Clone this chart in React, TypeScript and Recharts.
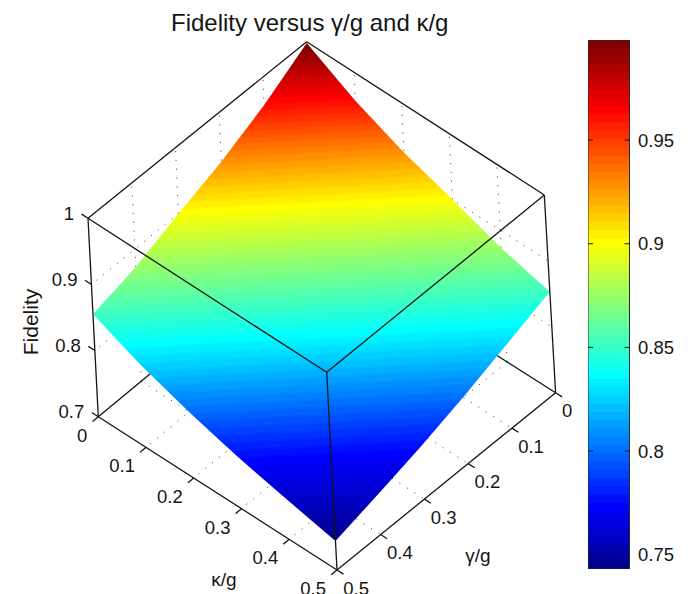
import { ComposedChart, Area, Line, XAxis, YAxis } from 'recharts'

const WIDTH = 688
const HEIGHT = 594

// grid values of both axes
const gridTicks = [0, 0.1, 0.2, 0.3, 0.4, 0.5]
const zTicks = [0.7, 0.8, 0.9, 1]
const colorbarTicks = [0.75, 0.8, 0.85, 0.9, 0.95]

// fidelity read along the four edges of the surface, one value per grid tick
const edgeKappa0 = [0.998, 0.957, 0.925, 0.9, 0.873, 0.855] // by gamma
const edgeGamma0 = [0.998, 0.957, 0.925, 0.9, 0.873, 0.853] // by kappa
const edgeKappaMax = [0.853, 0.828, 0.803, 0.781, 0.762, 0.744] // by gamma
const edgeGammaMax = [0.855, 0.823, 0.798, 0.777, 0.76, 0.744] // by kappa

// fidelity along the diagonal gamma = kappa, used for the colour bands
const diagonalSteps = [0, 0.05, 0.1, 0.15, 0.2, 0.25, 0.3, 0.35, 0.4, 0.45, 0.5]
const diagonalFidelity = [0.998, 0.965, 0.93, 0.9, 0.875, 0.851, 0.827, 0.8, 0.774, 0.759, 0.744]

const colorMin = 0.7431
const colorMax = 0.9983
const colorLevels = 64

// where the cube corners land in the view, [x, y] at z = 0.7 and z = 1
const view = {
  back: [[313.4, 239], [306.7, 41.7]],
  left: [[98.3, 416.7], [88, 218.3]],
  right: [[555.6, 392.7], [544.3, 195]],
  front: [[337, 570], [326.7, 372.3]],
}

const lerp = (a: number, b: number, t: number) => a + (b - a) * t

function project(gamma: number, kappa: number, z: number) {
  const g = gamma / 0.5
  const k = kappa / 0.5
  const h = (z - 0.7) / 0.3
  const at = (i: number) => {
    const corner = (c: number[][]) => lerp(c[0][i], c[1][i], h)
    return lerp(
      lerp(corner(view.back), corner(view.left), g),
      lerp(corner(view.right), corner(view.front), g),
      k,
    )
  }
  return { x: at(0), y: at(1) }
}

function jet(t: number) {
  const c = (v: number) => Math.round(255 * Math.max(0, Math.min(1, v)))
  const r = c(Math.min(4 * t - 1.5, -4 * t + 4.5))
  const g = c(Math.min(4 * t - 0.5, -4 * t + 3.5))
  const b = c(Math.min(4 * t + 0.5, -4 * t + 2.5))
  return `rgb(${r},${g},${b})`
}

const levels = Array.from({ length: colorLevels }, (_, k) => ({
  lo: lerp(colorMin, colorMax, k / colorLevels),
  hi: lerp(colorMin, colorMax, (k + 1) / colorLevels),
  color: jet((k + 1) / colorLevels),
}))

// surface outline, top and bottom boundary as seen on screen
const upperEdge = [
  ...gridTicks.map((g, i) => project(g, 0, edgeKappa0[i])).reverse(),
  ...gridTicks.slice(1).map((k, i) => project(0, k, edgeGamma0[i + 1])),
]
const lowerEdge = [
  ...gridTicks.map((k, i) => project(0.5, k, edgeGammaMax[i])),
  ...gridTicks.slice(0, -1).map((g, i) => project(g, 0.5, edgeKappaMax[i])).reverse(),
]

function yAt(edge: { x: number; y: number }[], x: number) {
  for (let i = 1; i < edge.length; i++) {
    if (x <= edge[i].x) {
      return lerp(edge[i - 1].y, edge[i].y, (x - edge[i - 1].x) / (edge[i].x - edge[i - 1].x))
    }
  }
  return edge[edge.length - 1].y
}

const surfaceData = [...upperEdge, ...lowerEdge]
  .map((p) => p.x)
  .sort((a, b) => a - b)
  .filter((x) => x >= upperEdge[0].x && x <= upperEdge[upperEdge.length - 1].x)
  .map((x) => ({ x, band: [yAt(upperEdge, x), yAt(lowerEdge, x)] }))

// colour bands run along this screen direction, from left corner to right corner
const leftCorner = project(0.5, 0, 0.85)
const rightCorner = project(0, 0.5, 0.85)
const tilt = (leftCorner.y - rightCorner.y) / (rightCorner.x - leftCorner.x)
const bandCenterX = (leftCorner.x + rightCorner.x) / 2
const bandDepth = (p: { x: number; y: number }) => p.y + tilt * (p.x - bandCenterX)

const diagonalDepth = diagonalSteps.map((s, i) => bandDepth(project(s, s, diagonalFidelity[i])))

function depthOfFidelity(f: number) {
  for (let i = 1; i < diagonalFidelity.length; i++) {
    if (f >= diagonalFidelity[i]) {
      const t = (f - diagonalFidelity[i - 1]) / (diagonalFidelity[i] - diagonalFidelity[i - 1])
      return lerp(diagonalDepth[i - 1], diagonalDepth[i], t)
    }
  }
  return diagonalDepth[diagonalDepth.length - 1]
}

const depthStart = depthOfFidelity(colorMax) - 2
const depthEnd = depthOfFidelity(colorMin) + 2
const gradientLength = depthEnd - depthStart
const offsetOf = (f: number) => (depthOfFidelity(f) - depthStart) / gradientLength
const gradientScale = 1 / (1 + tilt * tilt)

type Pt = { x: number; y: number; text?: string }

const seg = (a: Pt, b: Pt) => [a, b]

// dotted grid on the floor and the two back walls
const gridSegments = [
  ...gridTicks.slice(1, -1).flatMap((t) => [
    seg(project(0, t, 0.7), project(0.5, t, 0.7)),
    seg(project(t, 0, 0.7), project(t, 0.5, 0.7)),
    seg(project(t, 0, 0.7), project(t, 0, 1)),
    seg(project(0, t, 0.7), project(0, t, 1)),
  ]),
  ...zTicks.slice(1, -1).flatMap((z) => [
    seg(project(0, 0, z), project(0.5, 0, z)),
    seg(project(0, 0, z), project(0, 0.5, z)),
  ]),
]

const floorBack = [
  seg(project(0.5, 0, 0.7), project(0, 0, 0.7)),
  seg(project(0, 0.5, 0.7), project(0, 0, 0.7)),
]

const boxSegments = [
  seg(project(0.5, 0, 1), project(0, 0, 1)),
  seg(project(0, 0, 1), project(0, 0.5, 1)),
  seg(project(0.5, 0, 1), project(0.5, 0.5, 1)),
  seg(project(0, 0.5, 1), project(0.5, 0.5, 1)),
  seg(project(0.5, 0, 0.7), project(0.5, 0, 1)),
  seg(project(0, 0.5, 0.7), project(0, 0.5, 1)),
  seg(project(0.5, 0.5, 0.7), project(0.5, 0.5, 1)),
  seg(project(0.5, 0, 0.7), project(0.5, 0.5, 0.7)),
  seg(project(0, 0.5, 0.7), project(0.5, 0.5, 0.7)),
]

const tickOut = 0.0135
const tickSegments = [
  ...gridTicks.map((k) => seg(project(0.5, k, 0.7), project(0.5 + tickOut, k, 0.7))),
  ...gridTicks.map((g) => seg(project(g, 0.5, 0.7), project(g, 0.5 + tickOut, 0.7))),
  ...zTicks.map((z) => seg(project(0.5, 0, z), project(0.5, -tickOut, z))),
]

const kappaLabels: Pt[] = gridTicks.map((k) => ({ ...project(0.5, k, 0.7), text: String(k) }))
const gammaLabels: Pt[] = gridTicks.map((g) => ({ ...project(g, 0.5, 0.7), text: String(g) }))
const zLabels: Pt[] = zTicks.map((z) => ({ ...project(0.5, 0, z), text: String(z) }))

const ink = '#151515'
const fontFamily = '"Liberation Sans", Arial, sans-serif'

function tickText(dx: number, dy: number, anchor: 'start' | 'end') {
  return (props: any) => (
    <text
      key={props.payload.text}
      x={props.cx + dx}
      y={props.cy + dy}
      textAnchor={anchor}
      dominantBaseline="central"
      fontSize={18.5}
      fontFamily={fontFamily}
      fill={ink}
    >
      {props.payload.text}
    </text>
  )
}

function labelSeries(data: Pt[], dx: number, dy: number, anchor: 'start' | 'end') {
  return (
    <Line
      key={`labels-${data[0].x}-${anchor}-${dx}`}
      data={data}
      dataKey="y"
      stroke="none"
      isAnimationActive={false}
      activeDot={false}
      dot={tickText(dx, dy, anchor)}
    />
  )
}

function ColorbarTick(props: any) {
  const { x, y, payload } = props
  return (
    <g>
      <line x1={x - 5} x2={x} y1={y} y2={y} stroke={ink} />
      <line x1={x - 41.5} x2={x - 36.5} y1={y} y2={y} stroke={ink} />
      <text x={x + 8.5} y={y} dominantBaseline="central" fontSize={18.5} fontFamily={fontFamily} fill={ink}>
        {payload.value}
      </text>
    </g>
  )
}

export default function App() {
  return (
    <div style={{ position: 'absolute', left: 0, top: 0, width: WIDTH, height: HEIGHT, background: '#fff' }}>
      <ComposedChart width={WIDTH} height={HEIGHT} margin={{ top: 0, right: 0, bottom: 0, left: 0 }}>
        <defs>
          <linearGradient
            id="fidelityBands"
            gradientUnits="userSpaceOnUse"
            x1={bandCenterX}
            y1={depthStart}
            x2={bandCenterX + tilt * gradientLength * gradientScale}
            y2={depthStart + gradientLength * gradientScale}
          >
            {levels
              .flatMap((l) => {
                const soft = (l.hi - l.lo) * 0.25
                return [
                  <stop key={`${l.lo}-a`} offset={offsetOf(l.lo + soft)} stopColor={l.color} />,
                  <stop key={`${l.lo}-b`} offset={offsetOf(l.hi - soft)} stopColor={l.color} />,
                ]
              })
              .reverse()}
          </linearGradient>
        </defs>
        <XAxis dataKey="x" type="number" domain={[0, WIDTH]} hide />
        <YAxis type="number" domain={[0, HEIGHT]} reversed hide width={0} />

        {gridSegments.map((s, i) => (
          <Line
            key={`grid-${i}`}
            data={s}
            dataKey="y"
            stroke="#555"
            strokeWidth={1}
            strokeDasharray="1.2 7.6"
            dot={false}
            activeDot={false}
            zIndex={50}
            isAnimationActive={false}
          />
        ))}
        {floorBack.map((s, i) => (
          <Line
            key={`floor-${i}`}
            data={s}
            dataKey="y"
            stroke={ink}
            strokeWidth={1.3}
            dot={false}
            activeDot={false}
            zIndex={50}
            isAnimationActive={false}
          />
        ))}
        <Area
          data={surfaceData}
          dataKey="band"
          type="linear"
          stroke="none"
          fill="url(#fidelityBands)"
          fillOpacity={1}
          activeDot={false}
          zIndex={100}
          isAnimationActive={false}
        />
        {[...boxSegments, ...tickSegments].map((s, i) => (
          <Line
            key={`box-${i}`}
            data={s}
            dataKey="y"
            stroke={ink}
            strokeWidth={1.3}
            dot={false}
            activeDot={false}
            isAnimationActive={false}
          />
        ))}
        {labelSeries(kappaLabels, -11, 18.5, 'end')}
        {labelSeries(gammaLabels, 6.3, 18, 'start')}
        {labelSeries(zLabels, -14, -5, 'end')}

        <text x={171} y={31} fontSize={24} fontFamily={fontFamily} fill={ink}>
          Fidelity versus γ/g and κ/g
        </text>
        <text x={224} y={586} textAnchor="middle" fontSize={19} fontFamily={fontFamily} fill={ink}>
          κ/g
        </text>
        <text x={478} y={562} textAnchor="middle" fontSize={19} fontFamily={fontFamily} fill={ink}>
          γ/g
        </text>
        <text
          transform="translate(38 322) rotate(-90)"
          textAnchor="middle"
          fontSize={21}
          fontFamily={fontFamily}
          fill={ink}
        >
          Fidelity
        </text>
      </ComposedChart>

      <div style={{ position: 'absolute', left: 588, top: 40 }}>
        <ComposedChart width={100} height={529} margin={{ top: 0, right: 0, bottom: 0, left: 0 }}>
          <XAxis type="number" dataKey="x" domain={[0, 1]} hide />
          <YAxis
            type="number"
            orientation="right"
            width={58.5}
            domain={[colorMin, colorMax]}
            ticks={colorbarTicks}
            axisLine={false}
            tickLine={false}
            tickSize={0}
            tickMargin={0}
            tick={<ColorbarTick />}
            interval={0}
          />
          {levels.map((l) => (
            <Area
              key={l.lo}
              data={[
                { x: 0, band: [l.lo, colorMax] },
                { x: 1, band: [l.lo, colorMax] },
              ]}
              dataKey="band"
              type="linear"
              stroke="none"
              fill={l.color}
              fillOpacity={1}
              activeDot={false}
              isAnimationActive={false}
            />
          ))}
          <Line
            data={[
              { x: 0, y: colorMin },
              { x: 1, y: colorMin },
              { x: 1, y: colorMax },
              { x: 0, y: colorMax },
              { x: 0, y: colorMin },
            ]}
            dataKey="y"
            stroke="#2a2a2a"
            strokeWidth={1}
            dot={false}
            activeDot={false}
            isAnimationActive={false}
          />
        </ComposedChart>
      </div>
    </div>
  )
}
